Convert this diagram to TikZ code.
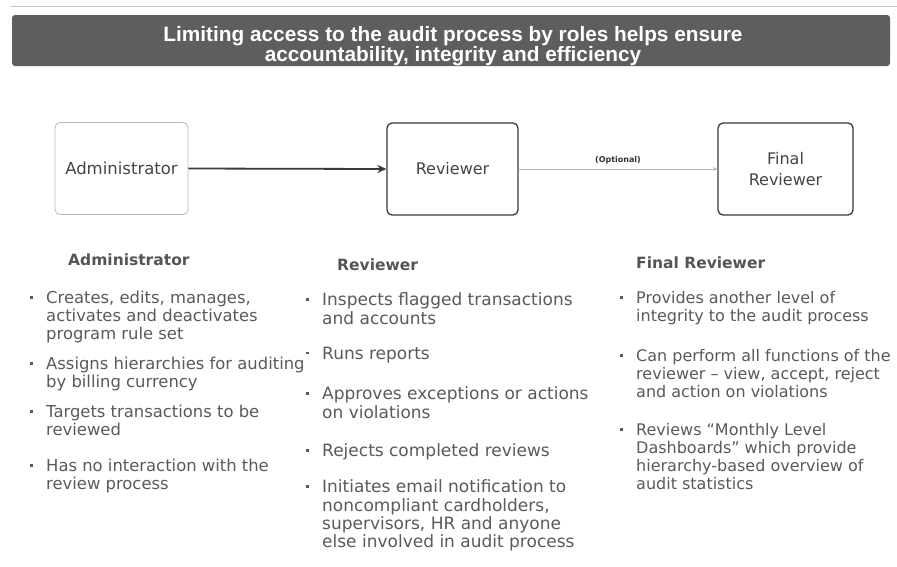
\documentclass[tikz,border=0pt]{standalone}
\usepackage{fontspec}
\setmainfont{DejaVu Sans}
\newfontfamily\arialf{Liberation Sans}
\usetikzlibrary{arrows.meta}
\definecolor{banner}{HTML}{5E5E5E}
\definecolor{bodytxt}{HTML}{5A5A5A}
\definecolor{headtxt}{HTML}{555555}
\definecolor{boxtxt}{HTML}{444444}
\definecolor{darkline}{HTML}{3A3A3A}
\newcommand{\blt}{\strut\llap{\raisebox{0.28em}{\rule{2.6pt}{2.6pt}}\hspace{13.5pt}}}
\tikzset{
  rolebox/.style={draw=darkline, line width=1.3pt, rounded corners=5pt, minimum height=92pt, align=center, text=boxtxt, font=\fontsize{16}{21}\selectfont},
  headtext/.style={anchor=base west, inner sep=0pt, text=headtxt, font=\bfseries\fontsize{15.5}{18}\selectfont},
  itemtext/.style={anchor=north west, yshift=12.6pt, inner sep=0pt, align=left, text=bodytxt, font=\fontsize{17}{18}\selectfont},
  itemsmall/.style={itemtext, font=\fontsize{16}{18}\selectfont},
  itemmid/.style={itemtext, font=\fontsize{16.4}{18}\selectfont},
}
\begin{document}
\begin{tikzpicture}[x=1pt,y=-1pt]
\useasboundingbox (0,0) rectangle (897,566);
\fill[white] (0,0) rectangle (897,566);
% top rule
\draw[gray!45, line width=0.8pt] (10,6) -- (897,6);
% banner
\node[fill=banner, rounded corners=3pt, minimum width=878pt, minimum height=51pt, inner sep=0pt] (banner) at (451,40.5) {};
\node[align=center, text=white, inner sep=0pt, font=\arialf\bfseries\fontsize{20.8}{20.5}\selectfont] (title) at (453,46)
  {Limiting access to the audit process by roles helps ensure\\accountability, integrity and efficiency};
% role boxes
\node[rolebox, draw=gray!55, line width=0.8pt, minimum width=133pt, font=\fontsize{16.5}{21}\selectfont] (adm) at (121.5,168.5) {Administrator};
\node[rolebox, minimum width=131pt] (rev) at (452.5,169) {Reviewer};
\node[rolebox, minimum width=135pt] (fin) at (785.5,169) {Final\\Reviewer};
% connectors
\draw[darkline, line width=1.8pt, -{Stealth[length=9pt,width=8pt]}] (adm.east) -- (rev.west);
\draw[gray!55, line width=0.7pt, -{Stealth[length=4pt,width=4pt]}] (rev.east) -- (fin.west)
  node[midway, above=1pt, text=black!80, font=\bfseries\fontsize{8}{9}\selectfont] (opt) {(Optional)};
% headings
\node[headtext] (h1) at (68,265) {Administrator};
\node[headtext] (h2) at (337,270) {Reviewer};
\node[headtext] (h3) at (636,268) {Final Reviewer};
% Administrator items
\node[itemmid] (a1) at (46,303) {\blt Creates, edits, manages,\\activates and deactivates\\program rule set};
\node[itemmid] (a2) at (46,369) {\blt Assigns hierarchies for auditing\\by billing currency};
\node[itemmid] (a3) at (46,417) {\blt Targets transactions to be\\reviewed};
\node[itemmid] (a4) at (46,471) {\blt Has no interaction with the\\review process};
% Reviewer items
\node[itemtext] (r1) at (322,305) {\blt Inspects flagged transactions\\and accounts};
\node[itemtext] (r2) at (322,359) {\blt Runs reports};
\node[itemtext] (r3) at (322,399) {\blt Approves exceptions or actions\\on violations};
\node[itemtext] (r4) at (322,456) {\blt Rejects completed reviews};
\node[itemtext] (r5) at (322,492) {\blt Initiates email notification to\\noncompliant cardholders,\\supervisors, HR and anyone\\else involved in audit process};
% Final Reviewer items
\node[itemsmall] (f1) at (636,303) {\blt Provides another level of\\integrity to the audit process};
\node[itemsmall] (f2) at (636,361) {\blt Can perform all functions of the\\reviewer -- view, accept, reject\\and action on violations};
\node[itemsmall] (f3) at (636,435) {\blt Reviews ``Monthly Level\\Dashboards'' which provide\\hierarchy-based overview of\\audit statistics};
\end{tikzpicture}
\end{document}
